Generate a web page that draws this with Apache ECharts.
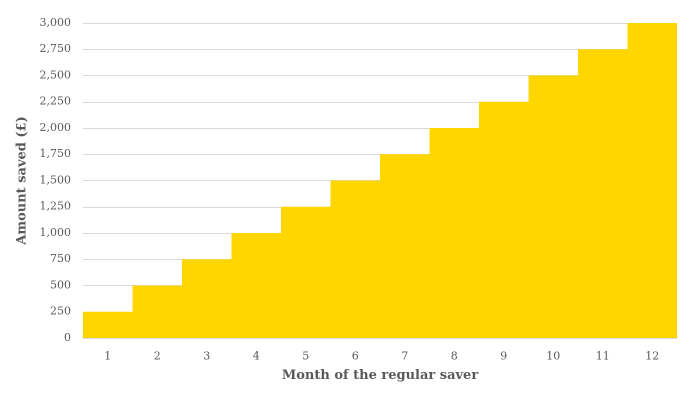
<!DOCTYPE html>
<html>
<head>
<meta charset="utf-8">
<script src="https://cdn.jsdelivr.net/npm/echarts@6/dist/echarts.min.js"></script>
<style>html,body{margin:0;padding:0;background:#fff}#c{width:692px;height:395px}</style>
</head>
<body>
<div id="c"></div>
<script>
const months = ['1','2','3','4','5','6','7','8','9','10','11','12'];
const saved = [250,500,750,1000,1250,1500,1750,2000,2250,2500,2750,3000];
const xTitle = 'Month of the regular saver';
const yTitle = 'Amount saved (£)';
const font = '"DejaVu Serif", serif';
const chart = echarts.init(document.getElementById('c'), null, {devicePixelRatio: 2});
chart.setOption({
  animation: false,
  grid: {left: 83, right: 15, top: 23, bottom: 57},
  xAxis: {
    type: 'category', data: months,
    name: xTitle, nameLocation: 'middle', nameGap: 31,
    nameTextStyle: {fontFamily: font, fontSize: 13, fontWeight: 'bold', color: '#595959'},
    axisLine: {lineStyle: {color: '#d9d9d9'}},
    axisTick: {show: false},
    axisLabel: {fontFamily: font, fontSize: 11, color: '#595959', margin: 13}
  },
  yAxis: {
    type: 'value', min: 0, max: 3000, interval: 250,
    name: yTitle, nameLocation: 'middle', nameGap: 48,
    nameTextStyle: {fontFamily: font, fontSize: 13, fontWeight: 'bold', color: '#595959'},
    axisLine: {show: false}, axisTick: {show: false},
    axisLabel: {fontFamily: font, fontSize: 11, color: '#595959', margin: 12,
      formatter: v => v.toLocaleString('en-GB')},
    splitLine: {lineStyle: {color: '#d9d9d9'}}
  },
  series: [{
    type: 'bar', data: saved, barCategoryGap: 0,
    itemStyle: {color: '#FFD600', borderColor: '#FFD600', borderWidth: 1}
  }]
});
</script>
</body>
</html>
